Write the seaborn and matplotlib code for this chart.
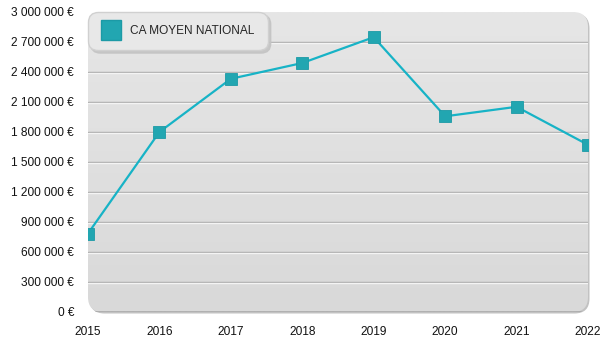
import numpy as np
import pandas as pd
import matplotlib
matplotlib.use("Agg")
import matplotlib.pyplot as plt
import seaborn as sns
from matplotlib.patches import FancyBboxPatch
from matplotlib.lines import Line2D
from matplotlib.ticker import FuncFormatter, MultipleLocator

years = [2015, 2016, 2017, 2018, 2019, 2020, 2021, 2022]
ca_moyen = [785000, 1800000, 2332000, 2490000, 2748000, 1957000, 2052000, 1672000]
series_label = "CA MOYEN NATIONAL"

df = pd.DataFrame({"annee": years, "ca": ca_moyen})

sns.set_theme(style="white")
plt.rcParams["font.family"] = ["Liberation Sans", "DejaVu Sans"]

fig = plt.figure(figsize=(6, 3.5), dpi=100)
ax = fig.add_axes([88 / 600, 1 - 312 / 350, 500 / 600, 300 / 350])
ax.set_xlim(2015, 2022)
ax.set_ylim(0, 3000000)

# rounded panel with a thin shadow and vertical gradient
shadow = FancyBboxPatch((0.003, -0.005), 1.0, 1.0, boxstyle="round,pad=0,rounding_size=0.03",
                        transform=ax.transAxes, facecolor="#c2c2c2", edgecolor="none",
                        zorder=0, clip_on=False, mutation_aspect=500 / 300)
ax.add_patch(shadow)
panel = FancyBboxPatch((0, 0), 1.0, 1.0, boxstyle="round,pad=0,rounding_size=0.03",
                       transform=ax.transAxes, facecolor="none", edgecolor="none",
                       zorder=0.5, clip_on=False, mutation_aspect=500 / 300)
ax.add_patch(panel)
grad = np.linspace(0, 1, 256).reshape(-1, 1)
img = ax.imshow(grad, extent=[0, 1, 0, 1], transform=ax.transAxes, aspect="auto",
                cmap=matplotlib.colors.LinearSegmentedColormap.from_list("bg", ["#e6e6e6", "#d9d9d9"]),
                origin="upper", zorder=0.6, interpolation="bilinear")
img.set_clip_path(panel)
ax.set_xlim(2015, 2022)
ax.set_ylim(0, 3000000)

# embossed grid lines
for v in np.arange(300000, 3000000, 300000):
    ax.axhline(v, color="#a9a9a9", lw=1.0, zorder=1)
    ax.axhline(v - 11000, color="#f4f4f4", lw=1.0, zorder=1)
ax.axhline(0, color="#a9a9a9", lw=1.2, zorder=1, xmin=0.015, xmax=0.985)

for s in ax.spines.values():
    s.set_visible(False)
ax.set_facecolor("none")

sns.lineplot(data=df, x="annee", y="ca", ax=ax, color="#17b3c6", lw=1.6,
             marker="s", markersize=9, markerfacecolor="#22a6b1",
             markeredgecolor="#1c9aa6", markeredgewidth=0.6, zorder=3, legend=False)

ax.yaxis.set_major_locator(MultipleLocator(300000))
ax.yaxis.set_major_formatter(FuncFormatter(lambda v, p: f"{int(v):,}".replace(",", " ") + " €"))
ax.set_xticks(years)
ax.set_xticklabels([str(y) for y in years])
ax.tick_params(axis="both", length=0, labelsize=8.6, colors="#111111")
ax.tick_params(axis="y", pad=10)
ax.tick_params(axis="x", pad=10)
ax.set_xlabel("")
ax.set_ylabel("")

handle = Line2D([], [], marker="s", linestyle="none", markersize=14.5,
                markerfacecolor="#22a6b1", markeredgecolor="#1c9aa6")
leg = ax.legend([handle], [series_label], loc="upper left", bbox_to_anchor=(0.0, 1.0),
                borderaxespad=0.0, frameon=True, fancybox=True,
                shadow={"color": "#c4c4c4", "alpha": 0.9},
                fontsize=8.6, handlelength=1.6, handletextpad=0.85, borderpad=1.1,
                facecolor="#e8e8e8", edgecolor="#d0d0d0", framealpha=1)
leg.get_frame().set_boxstyle("round,pad=0,rounding_size=0.8")
leg.set_zorder(5)

fig.savefig("out.png", dpi=100, facecolor="white")
